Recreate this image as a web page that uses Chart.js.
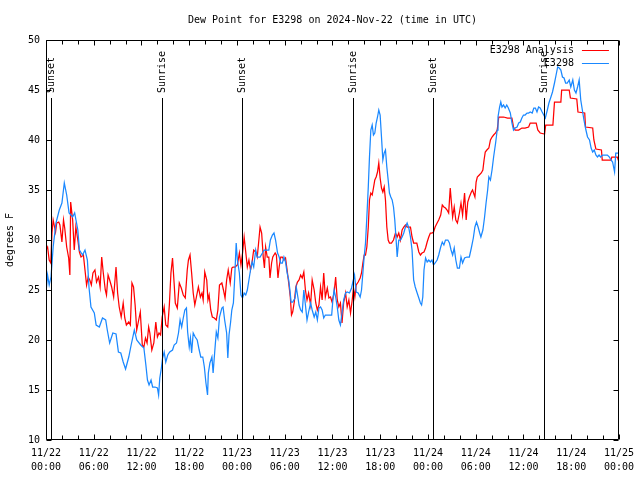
<!DOCTYPE html>
<html><head><meta charset="utf-8">
<script src="https://cdn.jsdelivr.net/npm/chart.js@4.4.0/dist/chart.umd.min.js"></script>
<style>html,body{margin:0;padding:0;background:#fff;}</style>
</head><body>
<canvas id="c" width="640" height="480"></canvas>
<script>
// Hours since 2024-11-22 00:00 UTC
const analysisHours = [0,0.2,0.4,0.6,0.75,0.9,1.2,1.35,1.6,1.75,2.0,2.2,2.35,2.6,2.85,3.0,3.1,3.35,3.55,3.75,4.0,4.2,4.4,4.7,4.9,5.1,5.3,5.5,5.7,5.9,6.15,6.35,6.6,6.8,7.0,7.2,7.45,7.6,7.8,8.0,8.25,8.5,8.8,9.0,9.2,9.45,9.7,9.9,10.1,10.4,10.6,10.8,11.0,11.2,11.4,11.6,11.85,12.1,12.3,12.5,
12.7,12.9,13.05,13.3,13.55,13.8,14.0,14.2,14.4,14.6,14.85,15.05,15.3,15.5,15.7,15.9,16.1,16.25,16.5,16.75,17.0,17.25,17.5,17.75,17.9,18.1,18.3,18.5,18.7,18.9,19.15,19.4,19.6,19.75,19.95,20.2,20.35,20.5,20.7,20.9,21.15,21.4,21.6,21.8,22.1,22.3,22.5,22.7,22.9,23.15,23.35,23.5,23.75,24.05,24.3,24.5,24.7,24.9,25.1,25.3,25.5,25.7,25.9,26.1,26.35,26.55,26.75,26.9,27.1,27.3,27.45,27.6,27.8,28.0,28.15,28.35,28.5,28.8,28.95,29.15,29.3,29.5,29.7,29.9,30.1,30.3,30.5,30.7,30.85,31.0,31.2,31.4,31.6,31.8,32.0,32.2,32.4,32.6,32.8,33.0,33.25,33.45,33.7,33.9,34.1,34.3,34.5,34.7,34.9,35.1,35.35,35.55,35.75,35.95,36.2,36.4,36.6,36.8,37.0,37.2,37.4,37.65,37.85,38.06,38.27,38.48,38.64,38.81,38.98,39.23,39.48,39.65,39.82,39.98,40.15,40.32,40.5,40.65,40.82,40.99,41.15,41.32,41.49,41.66,41.82,41.99,42.16,42.33,42.5,42.66,42.83,43.0,43.16,43.41,43.67,43.92,44.13,44.33,44.54,44.75,44.96,45.17,45.38,45.59,45.8,46.0,46.2,46.4,46.6,46.85,47.05,47.25,47.5,47.7,47.9,48.1,48.3,48.5,48.7,48.9,49.15,49.35,49.6,49.8,50.0,50.2,50.4,50.6,50.8,50.95,51.1,51.3,51.5,51.7,51.95,52.15,52.35,52.6,52.8,53.0,53.2,53.45,53.6,53.9,54.05,54.2,54.45,54.7,54.9,55.05,55.2,55.4,55.65,55.85,56.05,56.25,56.5,56.7,56.9,57.5,58.0,58.55,58.75,58.95,59.4,59.8,60.2,60.65,60.85,61.6,61.8,62.1,62.65,62.8,63.7,63.9,64.7,64.8,65.75,65.9,66.7,66.85,67.7,67.8,68.7,68.85,69.1,69.8,69.9,71.0,71.1,71.8,72];
const analysisValues = [29,29.3,28,27.7,30.7,32,30.8,31.7,31.8,31.5,29.8,32,31.2,29.3,28.2,26.5,33.8,32,29,31.3,30,28.8,28.3,28.5,27,25.5,26.3,26,25.5,26.7,27,25.8,26.3,25.3,28.3,26.7,25,24.5,26.5,26,25.3,24.3,27.3,24.7,23.3,22.3,23.7,22.2,21.5,21.8,21.5,25.7,25.3,23.5,21,21.8,22.8,19.5,19.3,20.2,
19.7,21.3,20.7,19,19.7,21.8,20.3,20.7,20.5,22.3,23.3,21.5,21.3,23.5,26.7,28.2,25.7,23.7,23.2,25.7,25.2,24.5,24.2,27,28,28.5,26.7,24.7,23.5,24.3,25.3,24.3,24.7,24,26.8,26,24,24.5,23,22.3,22.2,22,23,25.5,25.7,25,24.2,26,27,25.7,27.2,27.3,27.3,27.5,28.7,27.5,28.7,30.3,28.8,27.3,28,27,27.8,29,28.8,28.3,30,31.3,30.7,28.3,27.2,29.3,28.3,28.3,26.2,27.7,28.3,28.7,28.5,26.2,27.3,28.3,28.3,28,28.2,27,25.7,24.3,22.5,22.8,23.8,25.3,25.8,26,26.5,26.2,26.8,25,24,24.7,23.5,26,25,23.7,23,23.5,25.3,24,26.7,24.3,25.2,24.2,24.3,23.8,24.7,26.3,24,23.3,23.7,21.7,23.7,24.7,23.3,24,22.7,24,25.2,24.3,25.5,25.8,26.2,26.7,27.7,28.5,28.5,29.3,31.3,34,34.7,34.5,35.2,36,36.3,36.8,37.7,36.2,35.2,34.8,35.3,34,31.3,30,29.7,29.7,30,30.7,30.3,30.7,30,31,31.3,31.5,31.3,31.3,31.3,30.3,29.7,29.7,29.7,28.8,28.5,28.7,28.8,29.2,29.8,30.3,30.7,30.7,30.8,31.3,31.7,32,32.5,33.5,33.3,33.2,33,32.7,35.2,33.7,32.3,33.3,32,31.7,32.7,33.7,32.5,34.7,32,33.8,34.3,34.8,35,34.3,35.8,36.3,36.5,36.7,37,38,38.8,39,39.2,40,40.3,40.5,40.7,41,42.3,42.3,42.2,42.2,41.3,41,41,41.2,41.2,41.3,41.7,41.7,41,40.7,40.6,41.5,41.5,43.8,43.8,45,45,44.2,44.1,42.8,42.7,41.3,41.2,40,39.1,39,38,38,38.3,38.3,37.8];
const stationHours = [0,0.2,0.4,0.63,0.9,1.25,1.67,2.0,2.3,2.6,2.9,3.35,3.6,4.0,4.2,4.6,4.9,5.2,5.4,5.65,6.07,6.3,6.7,7.1,7.5,7.7,8.0,8.4,8.8,9.1,9.4,9.7,10.0,10.4,10.7,11.1,11.4,11.9,12.3,12.55,12.75,12.95,13.2,13.4,13.7,14.0,14.15,14.3,14.5,14.65,14.85,15.05,15.3,15.55,15.9,16.1,16.4,16.65,16.85,17.05,17.25,17.45,17.65,17.8,18.0,18.15,18.3,18.5,18.75,19.0,19.25,19.45,19.7,19.9,20.1,20.3,20.4,20.6,20.85,21.0,21.2,21.4,21.6,21.8,22.1,22.25,22.45,22.7,22.85,23.0,23.2,23.35,23.55,23.7,23.9,24.05,24.3,24.5,24.7,24.9,25.1,25.3,25.5,25.7,25.9,26.1,26.35,26.55,26.9,27.2,27.4,28.0,28.2,28.45,28.65,28.85,29.1,29.3,29.5,29.7,29.9,30.1,30.3,30.5,30.65,30.8,31.0,31.3,31.45,31.65,31.8,32.0,32.2,32.4,32.6,32.8,33.0,33.25,33.45,33.7,33.9,34.1,34.3,34.5,34.7,34.9,35.1,35.9,36.05,36.2,36.4,36.6,36.8,37.0,37.2,37.4,37.65,37.85,38.14,38.4,38.56,38.77,38.98,39.23,39.48,39.65,39.82,39.98,40.15,40.32,40.5,40.65,40.82,40.99,41.15,41.32,41.49,41.66,41.82,41.99,42.16,42.33,42.5,42.66,42.83,43.0,43.16,43.33,43.5,43.67,43.83,44.0,44.13,44.33,44.54,44.75,44.96,45.17,45.38,45.59,45.8,46.0,46.2,46.4,46.6,46.85,47.05,47.2,47.35,47.5,47.7,47.9,48.1,48.3,48.5,48.7,48.9,49.15,49.35,49.6,49.8,50.0,50.2,50.5,50.7,50.9,51.1,51.3,51.5,51.7,51.95,52.15,52.35,52.6,52.9,53.2,53.45,53.7,53.9,54.1,54.3,54.5,54.65,54.9,55.1,55.3,55.5,55.65,55.85,56.05,56.25,56.5,56.7,56.8,57.0,57.15,57.3,57.5,57.7,57.9,58.1,58.35,58.55,58.75,58.95,59.2,59.4,59.6,59.8,60.0,60.2,60.45,60.65,60.85,61.1,61.3,61.5,61.7,61.9,62.1,62.35,62.55,62.75,63.0,63.2,63.45,63.65,63.9,64.1,64.3,64.5,64.7,64.9,65.1,65.3,65.5,65.75,65.95,66.2,66.4,66.6,66.8,67.0,67.2,67.4,67.6,67.85,68.05,68.3,68.5,68.7,68.9,69.1,69.3,69.5,69.7,69.95,70.55,70.8,71.0,71.2,71.35,71.45,71.6,72];
const stationValues = [24.7,26.5,25.5,26.3,29.3,31.7,33,33.7,35.7,34.5,32.7,32.3,32.7,31,29,28.5,29,28,25.3,23.3,22.7,21.5,21.3,22.2,22,21,19.7,20.7,20.6,18.8,18.7,17.8,17.1,18.3,19.5,21,20,19.5,19.2,17.5,16,15.5,16,15.3,15.3,15.2,14.5,16.2,17.2,18.2,18.8,17.8,18.5,18.8,19,19.5,19.7,20.7,22,21.3,22.2,23,23.2,20.8,19.3,20.2,18.7,20.7,20.3,20,19,18.3,18.3,17.3,15.7,14.5,16.7,17.7,18.3,16.7,18.8,20.8,20.2,22.3,23.2,23.3,22,20.7,18.2,20.5,21.8,23,23.7,26,29.7,28,26.7,24.5,24.2,24.7,24.5,25,26,27,27.8,27.3,29,28.3,28.3,28.7,29,29,30,30.5,30.7,30,28.7,28.3,27.7,27.7,28.3,27.8,26.7,26,25,23.8,23.8,24.2,25.3,24.3,23.5,23,22.8,25,23.5,22,22.8,23.7,23,22.3,22.8,22,23.2,23.3,23,22.2,22.5,22.5,24,25,24.3,23.3,22,21.5,22.7,24,24.7,24.8,24.7,25.2,25.8,26.5,24.8,24.7,24.3,25,26.7,28.3,29.7,32.3,35.3,38.3,41,41.5,40.5,40.7,41.7,42.3,43,42.5,40.3,38,38.7,39,37.3,36,34.7,34.3,34,33.3,32,30,28.3,30,30,30.3,30.7,31.3,31.7,31.2,30.3,29,26,25.3,24.8,24.2,23.7,23.5,24.3,27,28.2,27.8,28,27.8,28,27.5,27.7,28,28.5,29.3,29.8,29.5,30,30,29.7,29,28.5,29.2,28,27.2,27.2,28.3,27.7,28.2,28.3,28.3,29.2,30.2,31.3,31.8,31.3,30.7,30.3,31,32.2,33.7,35,36.3,36,37,38.3,39.7,41,42.3,43.3,43.8,43.3,43.5,43.2,43.5,43.2,42.7,41.7,41,41.2,41.3,41.7,41.8,42.2,42.5,42.5,42.7,42.7,42.8,42.7,43.2,43.2,42.8,43.3,43.2,42.8,42.5,42.2,43,43.7,44.3,44.8,45.7,46.5,47.3,47.2,47,46.3,46.2,45.7,45.7,46,45.3,46,45,44.7,45.3,46,44,43,42,41,40.3,40,39.2,38.8,39,38.5,38.3,38.5,38.3,38.5,38.5,38.3,38,37.8,37.2,36.8,38.7,38.7];
const sunHours = [0.63,14.55,24.6,38.52,48.68,62.6];
const sunLabels = ['Sunset','Sunrise','Sunset','Sunrise','Sunset','Sunrise'];
const tickDates = ['11/22','11/22','11/22','11/22','11/23','11/23','11/23','11/23','11/24','11/24','11/24','11/24','11/25'];
const tickTimes = ['00:00','06:00','12:00','18:00','00:00','06:00','12:00','18:00','00:00','06:00','12:00','18:00','00:00'];

const MONO = '"DejaVu Sans Mono", "Liberation Mono", monospace';
const toPts = (hs, vs) => hs.map((h, i) => ({x: h, y: vs[i]}));

const gnuplotFrame = {
  id: 'gnuplotFrame',
  afterDatasetsDraw(chart) {
    const {ctx, chartArea: a, scales: {x, y}} = chart;
    ctx.save();
    ctx.strokeStyle = '#000';
    ctx.fillStyle = '#000';
    ctx.lineWidth = 1;
    const L = Math.round(a.left) + 0.5, R = Math.round(a.right) - 0.5;
    const T = Math.round(a.top) + 0.5, B = Math.round(a.bottom) - 0.5;
    // sunrise / sunset lines
    ctx.font = '10px ' + MONO;
    sunHours.forEach((h, i) => {
      const px = Math.round(x.getPixelForValue(h)) + 0.5;
      ctx.beginPath();
      ctx.moveTo(px, a.top + 58);
      ctx.lineTo(px, B);
      ctx.stroke();
      ctx.save();
      ctx.translate(px, a.top + 53);
      ctx.rotate(-Math.PI / 2);
      ctx.textAlign = 'left';
      ctx.textBaseline = 'middle';
      ctx.fillText(sunLabels[i], 0, 0);
      ctx.restore();
    });
    // border
    ctx.beginPath();
    ctx.rect(L, T, R - L, B - T);
    ctx.stroke();
    // y ticks (both sides)
    ctx.beginPath();
    y.ticks.forEach(t => {
      const py = Math.round(y.getPixelForValue(t.value)) + 0.5;
      ctx.moveTo(L, py); ctx.lineTo(L + 5, py);
      ctx.moveTo(R, py); ctx.lineTo(R - 5, py);
    });
    // x ticks every 2 hours (top and bottom)
    for (let h = x.min; h <= x.max; h += 2) {
      const px = Math.round(x.getPixelForValue(h)) + 0.5;
      const len = (h % 6 === 0) ? 5 : 4;
      ctx.moveTo(px, B); ctx.lineTo(px, B - len);
      ctx.moveTo(px, T); ctx.lineTo(px, T + len);
    }
    ctx.stroke();
    // legend (gnuplot style: text then line sample)
    ctx.font = '10px ' + MONO;
    ctx.textAlign = 'right';
    ctx.textBaseline = 'middle';
    chart.data.datasets.forEach((ds, i) => {
      const ly = a.top + 10 + i * 13;
      ctx.fillStyle = '#000';
      ctx.fillText(ds.label, a.right - 45, ly);
      ctx.strokeStyle = ds.borderColor;
      ctx.beginPath();
      ctx.moveTo(a.right - 37, Math.round(ly) + 0.5);
      ctx.lineTo(a.right - 10, Math.round(ly) + 0.5);
      ctx.stroke();
    });
    ctx.restore();
  }
};

new Chart(document.getElementById('c'), {
  type: 'line',
  data: {
    datasets: [
      {label: 'E3298 Analysis', data: toPts(analysisHours, analysisValues), borderColor: '#ff0000', borderWidth: 1.25, pointRadius: 0, tension: 0, order: 2},
      {label: 'E3298', data: toPts(stationHours, stationValues), borderColor: '#1a88ff', borderWidth: 1.25, pointRadius: 0, tension: 0, order: 1}
    ]
  },
  options: {
    responsive: false,
    devicePixelRatio: 1,
    animation: false,
    layout: {padding: {left: 0, right: 20, top: 0, bottom: 0}},
    plugins: {
      legend: {display: false},
      tooltip: {enabled: false},
      title: {
        display: true,
        fullSize: false,
        text: 'Dew Point for E3298 on 2024-Nov-22 (time in UTC)',
        color: '#000',
        font: {family: MONO, size: 10, weight: 'normal', lineHeight: 1.2},
        padding: {top: 14, bottom: 14}
      }
    },
    scales: {
      x: {
        type: 'linear', min: 0, max: 72,
        afterFit(s) { s.height = 40; },
        grid: {display: false, drawTicks: false},
        border: {display: false},
        ticks: {
          stepSize: 6, autoSkip: false, maxRotation: 0, minRotation: 0, padding: 6,
          color: '#000',
          font: {family: MONO, size: 10, lineHeight: 1.4},
          callback: (v) => { const i = Math.round(v / 6); return [tickDates[i], tickTimes[i]]; }
        }
      },
      y: {
        min: 10, max: 50,
        afterFit(s) { s.width = 46; },
        grid: {display: false, drawTicks: false},
        border: {display: false},
        ticks: {stepSize: 5, padding: 6, color: '#000', font: {family: MONO, size: 10}},
        title: {display: true, text: 'degrees F', color: '#000', padding: {top: 4, bottom: 0}, font: {family: MONO, size: 10}}
      }
    }
  },
  plugins: [gnuplotFrame]
});
</script>
</body></html>
